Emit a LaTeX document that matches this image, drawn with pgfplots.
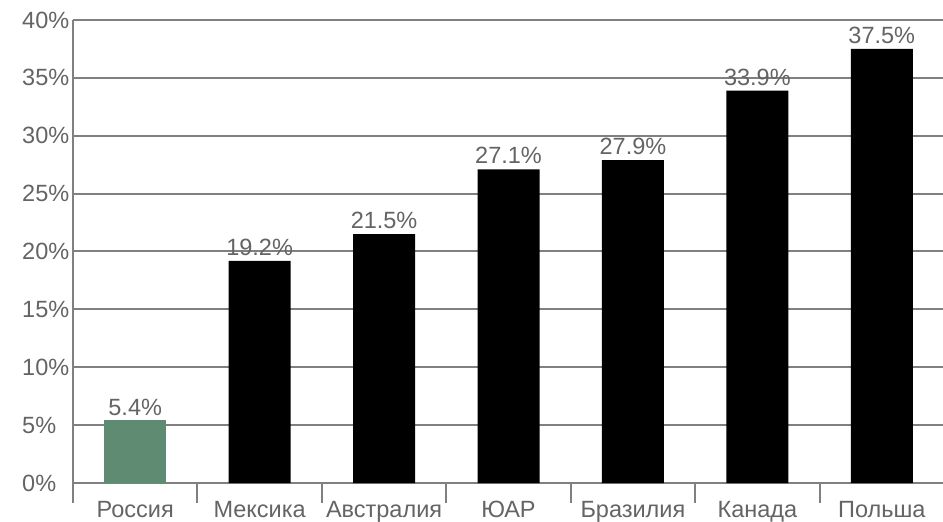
\documentclass[border=0pt]{standalone}
\usepackage{fontspec}
\setmainfont{Liberation Sans}
\usepackage{pgfplots}
\pgfplotsset{compat=1.18}
\definecolor{gridgray}{RGB}{128,128,128}
\definecolor{labelgray}{RGB}{100,100,100}
\definecolor{rusgreen}{RGB}{96,139,115}
\newcommand\lab{\fontsize{23.5}{28}\selectfont}

\begin{document}
\begin{tikzpicture}
\begin{axis}[
    scale only axis,
    width=871pt, height=463pt,
    xmin=-0.5, xmax=6.5,
    ymin=0, ymax=40,
    axis x line*=bottom, axis y line*=left,
    axis line style={gridgray, line width=2pt},
    ymajorgrids,
    grid style={gridgray, line width=2pt},
    ytick={0,5,...,40},
    yticklabel={\pgfmathprintnumber{\tick}\%},
    /pgf/number format/assume math mode=true,
    xtick={0,...,6},
    xticklabels={Россия,Мексика,Австралия,ЮАР,Бразилия,Канада,Польша},
    minor xtick={-0.5,0.5,...,6.5},
    major tick length=0pt,
    minor tick length=20pt,
    tick align=center,
    minor tick style={gridgray, line width=2pt},
    tick label style={font=\lab, text=labelgray, inner sep=0pt},
    yticklabel style={anchor=west, xshift=-51pt},
    xticklabel style={anchor=north, yshift=-18pt},
    ybar, bar width=62pt, bar shift=0pt,
    nodes near coords={\pgfmathprintnumber[fixed,precision=1,fixed zerofill]{\pgfplotspointmeta}\%},
    nodes near coords style={font=\lab, text=labelgray, inner sep=5pt},
    clip=false,
]
% Russia
\addplot[fill=rusgreen, draw=none] coordinates {(0,5.4)};
% other countries
\addplot[fill=black, draw=none] coordinates {
    (1,19.2) (2,21.5) (3,27.1) (4,27.9) (5,33.9) (6,37.5)
};
\end{axis}
\pgfresetboundingbox
\path ([shift={(-73pt,-38pt)}]current axis.south west)
    rectangle ([shift={(-1pt,20pt)}]current axis.north east);
\end{tikzpicture}
\end{document}
